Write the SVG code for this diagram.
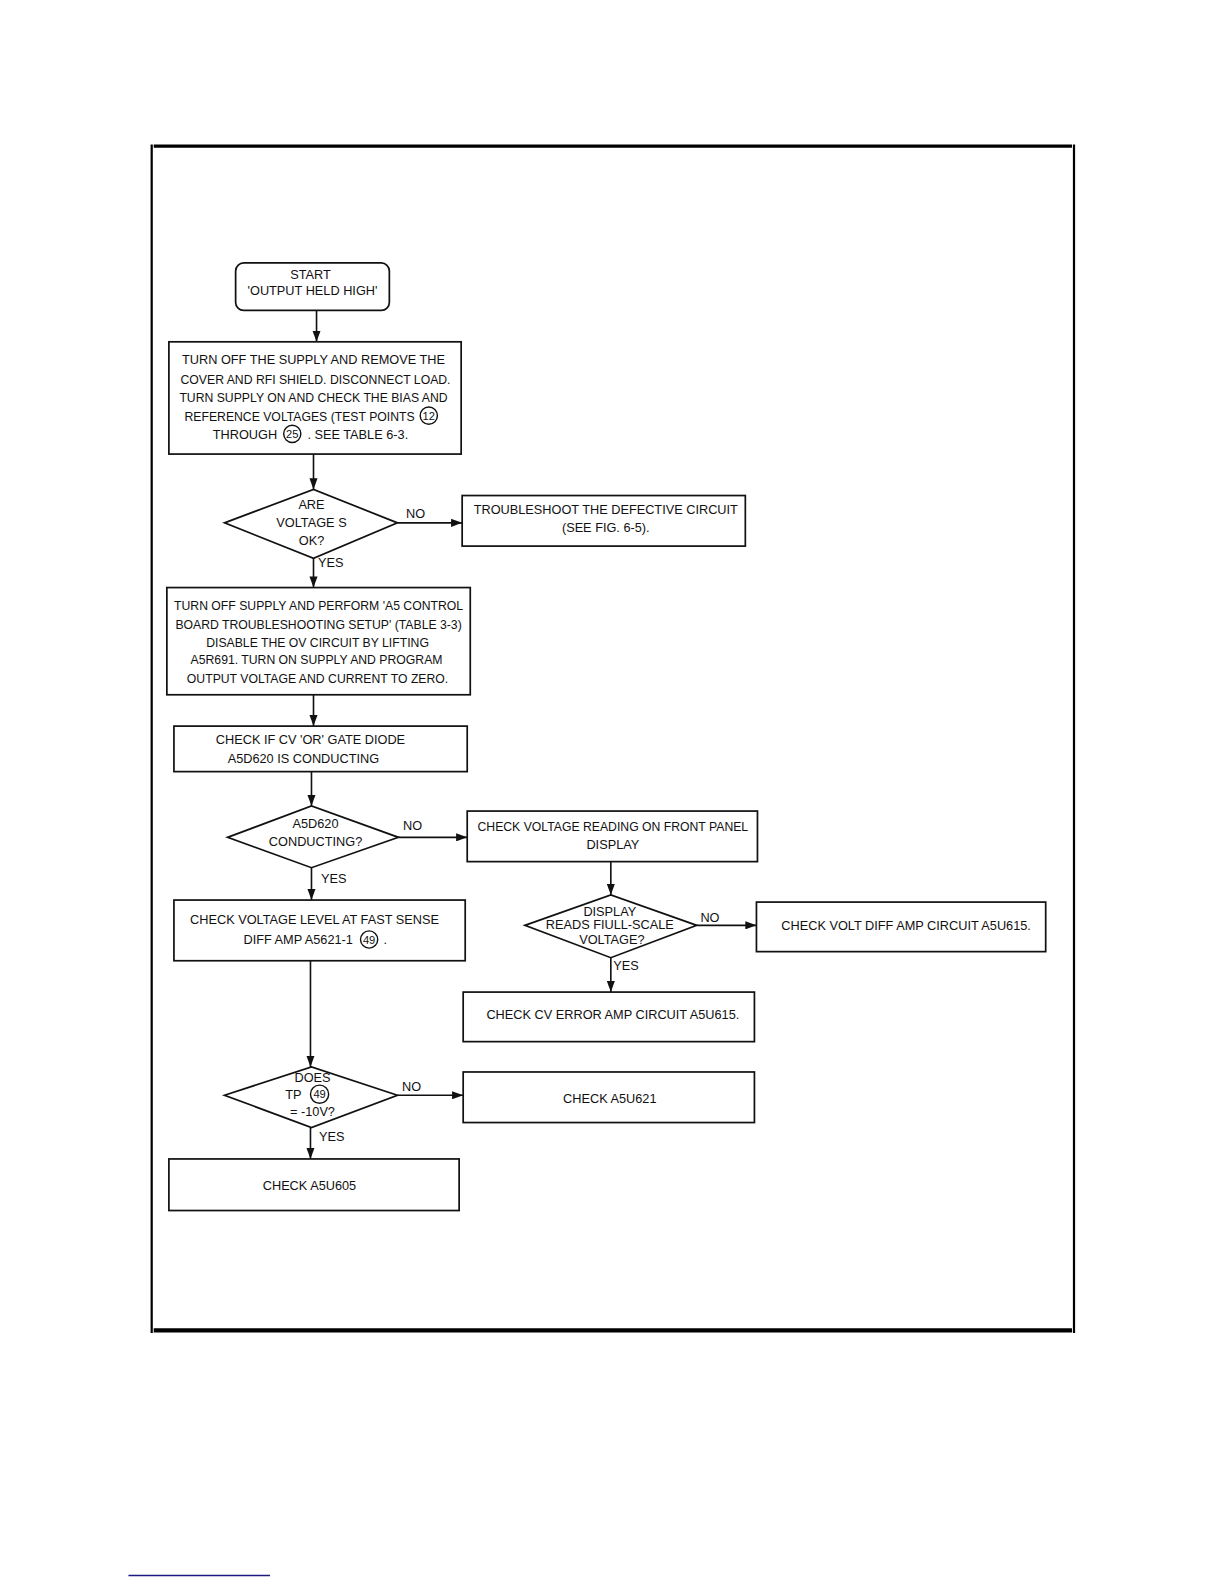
<svg xmlns="http://www.w3.org/2000/svg" width="1224" height="1584" viewBox="0 0 1224 1584">
<defs>
<style>
.t{font-family:"Liberation Sans",Arial,sans-serif;font-size:12.6px;fill:#111;text-anchor:middle}
.n{font-size:12.1px}
.s{font-family:"Liberation Sans",Arial,sans-serif;font-size:11px;fill:#111;text-anchor:middle}
.b{fill:#fff;stroke:#111;stroke-width:1.7}
.c{fill:none;stroke:#111;stroke-width:1.4}
.e{fill:none;stroke:#111;stroke-width:1.6}
</style>
<marker id="ah" markerUnits="userSpaceOnUse" markerWidth="12" markerHeight="8" refX="11" refY="4" orient="auto">
<path d="M0,0 L11,4 L0,8 Z" fill="#111"/>
</marker>
</defs>
<rect width="1224" height="1584" fill="#fff"/>
<g transform="scale(1.0113)">
<g id="frame">
<line x1="150" y1="143" x2="150" y2="1318" stroke="#000" stroke-width="2.2"/>
<line x1="1062" y1="143" x2="1062" y2="1318" stroke="#000" stroke-width="2.2"/>
<line x1="152" y1="144.5" x2="1060" y2="144.5" stroke="#000" stroke-width="3"/>
<line x1="152" y1="1315.5" x2="1060" y2="1315.5" stroke="#000" stroke-width="4"/>
<line x1="127" y1="1558" x2="267" y2="1558" stroke="#1a1a80" stroke-width="1.5"/>
</g>
<g id="connectors">
<line class="e" x1="313" y1="307" x2="313" y2="338" marker-end="url(#ah)"/>
<line class="e" x1="310" y1="449" x2="310" y2="484" marker-end="url(#ah)"/>
<line class="e" x1="393" y1="517" x2="457" y2="517" marker-end="url(#ah)"/>
<line class="e" x1="310" y1="552" x2="310" y2="581" marker-end="url(#ah)"/>
<line class="e" x1="310" y1="687" x2="310" y2="718" marker-end="url(#ah)"/>
<line class="e" x1="308" y1="763" x2="308" y2="797" marker-end="url(#ah)"/>
<line class="e" x1="394" y1="828" x2="462" y2="828" marker-end="url(#ah)"/>
<line class="e" x1="308" y1="858" x2="308" y2="890" marker-end="url(#ah)"/>
<line class="e" x1="604" y1="852" x2="604" y2="885" marker-end="url(#ah)"/>
<line class="e" x1="689" y1="915" x2="748" y2="915" marker-end="url(#ah)"/>
<line class="e" x1="604" y1="947" x2="604" y2="981" marker-end="url(#ah)"/>
<line class="e" x1="307" y1="950" x2="307" y2="1055" marker-end="url(#ah)"/>
<line class="e" x1="393" y1="1083" x2="458" y2="1083" marker-end="url(#ah)"/>
<line class="e" x1="307" y1="1115" x2="307" y2="1146" marker-end="url(#ah)"/>
<text class="t" x="411" y="512">NO</text>
<text class="t" x="327" y="561">YES</text>
<text class="t" x="408" y="821">NO</text>
<text class="t" x="330" y="873">YES</text>
<text class="t" x="702" y="912">NO</text>
<text class="t" x="619" y="959">YES</text>
<text class="t" x="407" y="1079">NO</text>
<text class="t" x="328" y="1128">YES</text>
</g>
<g id="start">
<rect class="b" x="233" y="260" width="152" height="47" rx="8"/>
<text class="t" x="307" y="276">START</text>
<text class="t" x="309" y="292">'OUTPUT HELD HIGH'</text>
</g>
<g id="box1">
<rect class="b" x="167" y="338" width="289" height="111"/>
<text class="t" x="310" y="360">TURN OFF THE SUPPLY AND REMOVE THE</text>
<text class="t n" x="312" y="380">COVER AND RFI SHIELD. DISCONNECT LOAD.</text>
<text class="t n" x="310" y="398">TURN SUPPLY ON AND CHECK THE BIAS AND</text>
<text class="t n" x="410" y="416" style="text-anchor:end">REFERENCE VOLTAGES (TEST POINTS</text>
<circle class="c" cx="424" cy="411" r="8.5"/>
<text class="s" x="424" y="415">12</text>
<text class="t" x="274" y="434" style="text-anchor:end">THROUGH</text>
<circle class="c" cx="289" cy="429" r="8.5"/>
<text class="s" x="289" y="433">25</text>
<text class="t" x="304" y="434" style="text-anchor:start">. SEE TABLE 6-3.</text>
</g>
<g id="dec1">
<polygon class="b" points="222,517 310,484 393,517 310,552"/>
<text class="t" x="308" y="503">ARE</text>
<text class="t" x="308" y="521">VOLTAGE S</text>
<text class="t" x="308" y="539">OK?</text>
</g>
<g id="trouble">
<rect class="b" x="457" y="490" width="280" height="50"/>
<text class="t" x="599" y="508">TROUBLESHOOT THE DEFECTIVE CIRCUIT</text>
<text class="t" x="599" y="526">(SEE FIG. 6-5).</text>
</g>
<g id="box2">
<rect class="b" x="165" y="581" width="300" height="106"/>
<text class="t n" x="315" y="603">TURN OFF SUPPLY AND PERFORM 'A5 CONTROL</text>
<text class="t n" x="315" y="622">BOARD TROUBLESHOOTING SETUP' (TABLE 3-3)</text>
<text class="t n" x="314" y="640">DISABLE THE OV CIRCUIT BY LIFTING</text>
<text class="t n" x="313" y="657">A5R691. TURN ON SUPPLY AND PROGRAM</text>
<text class="t n" x="314" y="675">OUTPUT VOLTAGE AND CURRENT TO ZERO.</text>
</g>
<g id="box3">
<rect class="b" x="172" y="718" width="290" height="45"/>
<text class="t" x="307" y="736">CHECK IF CV 'OR' GATE DIODE</text>
<text class="t" x="300" y="754">A5D620 IS CONDUCTING</text>
</g>
<g id="dec2">
<polygon class="b" points="225,828 308,797 394,828 308,858"/>
<text class="t" x="312" y="819">A5D620</text>
<text class="t" x="312" y="837">CONDUCTING?</text>
</g>
<g id="box4">
<rect class="b" x="462" y="802" width="287" height="50"/>
<text class="t n" x="606" y="822">CHECK VOLTAGE READING ON FRONT PANEL</text>
<text class="t" x="606" y="840">DISPLAY</text>
</g>
<g id="box5">
<rect class="b" x="172" y="890" width="288" height="60"/>
<text class="t" x="311" y="914">CHECK VOLTAGE LEVEL AT FAST SENSE</text>
<text class="t" x="349" y="933" style="text-anchor:end">DIFF AMP A5621-1</text>
<circle class="c" cx="365" cy="929" r="8.5"/>
<text class="s" x="365" y="933">49</text>
<text class="t" x="381" y="933">.</text>
</g>
<g id="dec3">
<polygon class="b" points="519,915 604,885 689,915 604,947"/>
<text class="t" x="603" y="906">DISPLAY</text>
<text class="t" x="603" y="919">READS FIULL-SCALE</text>
<text class="t" x="605" y="933">VOLTAGE?</text>
</g>
<g id="box6">
<rect class="b" x="748" y="892" width="286" height="49"/>
<text class="t" x="896" y="920">CHECK VOLT DIFF AMP CIRCUIT A5U615.</text>
</g>
<g id="box7">
<rect class="b" x="458" y="981" width="288" height="49"/>
<text class="t" x="606" y="1008">CHECK CV ERROR AMP CIRCUIT A5U615.</text>
</g>
<g id="dec4">
<polygon class="b" points="222,1083 308,1055 393,1083 308,1115"/>
<text class="t" x="309" y="1070">DOES</text>
<text class="t" x="290" y="1087">TP</text>
<circle class="c" cx="316" cy="1082" r="9"/>
<text class="s" x="316" y="1086">49</text>
<text class="t" x="309" y="1104">= -10V?</text>
</g>
<g id="box8">
<rect class="b" x="458" y="1060" width="288" height="50"/>
<text class="t" x="603" y="1091">CHECK A5U621</text>
</g>
<g id="box9">
<rect class="b" x="167" y="1146" width="287" height="51"/>
<text class="t" x="306" y="1177">CHECK A5U605</text>
</g>
</g>
</svg>
